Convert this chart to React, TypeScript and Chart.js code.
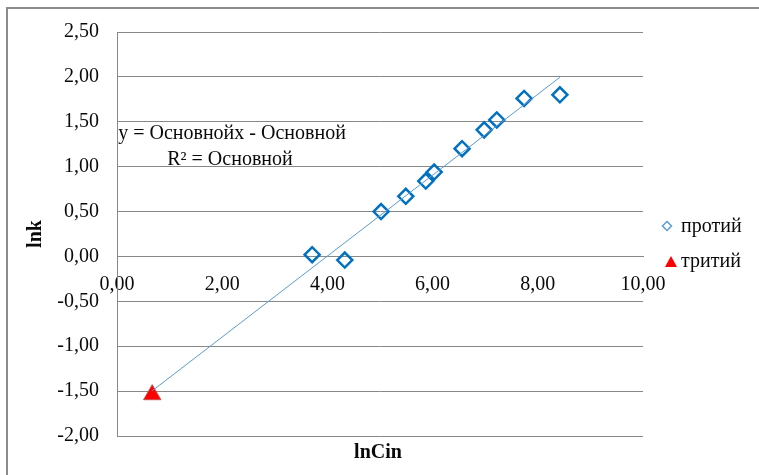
import React, { useEffect, useRef } from "react";
import { Chart, registerables } from "chart.js";

Chart.register(...registerables);

// ---- data ----
const protiumX = [3.71, 4.33, 5.02, 5.49, 5.87, 6.03, 6.56, 6.98, 7.22, 7.74, 8.42];
const protiumY = [0.02, -0.04, 0.5, 0.67, 0.84, 0.94, 1.2, 1.41, 1.52, 1.76, 1.8];
const tritiumX = [0.67];
const tritiumY = [-1.54];
const seriesNames = ["протий", "тритий"];
const xTickValues = [0, 2, 4, 6, 8, 10];
const yTickValues = [-2, -1.5, -1, -0.5, 0, 0.5, 1, 1.5, 2, 2.5];
const equationLine = "y = Основнойх - Основной";
const r2Line = "R² = Основной";
const xTitle = "lnCin";
const yTitle = "lnk";

const FONT = "'Liberation Serif', 'Times New Roman', serif";
const GRID = "#888888";
const fmt = (v: number) => v.toFixed(2).replace(".", ",");

function regression(xs: number[], ys: number[]) {
  const n = xs.length;
  const mx = xs.reduce((a, b) => a + b, 0) / n;
  const my = ys.reduce((a, b) => a + b, 0) / n;
  let sxy = 0;
  let sxx = 0;
  for (let i = 0; i < n; i++) {
    sxy += (xs[i] - mx) * (ys[i] - my);
    sxx += (xs[i] - mx) * (xs[i] - mx);
  }
  const slope = sxy / sxx;
  return { slope, intercept: my - slope * mx };
}

export default function App() {
  const ref = useRef<HTMLCanvasElement | null>(null);

  useEffect(() => {
    if (!ref.current) return;
    const allX = [...tritiumX, ...protiumX];
    const allY = [...tritiumY, ...protiumY];
    const { slope, intercept } = regression(allX, allY);
    const minX = Math.min(...allX);
    const maxX = Math.max(...allX);

    const decor = {
      id: "decor",
      beforeDraw(chart: any) {
        const ctx = chart.ctx;
        ctx.save();
        ctx.fillStyle = "#ffffff";
        ctx.fillRect(0, 0, chart.width, chart.height);
        ctx.strokeStyle = "#8c8c8c";
        ctx.lineWidth = 2;
        ctx.strokeRect(7, 8, 900, 600);
        ctx.restore();
      },
      afterDraw(chart: any) {
        const ctx = chart.ctx;
        ctx.save();
        ctx.fillStyle = "#0a0a0a";
        ctx.textAlign = "center";
        ctx.textBaseline = "middle";
        ctx.font = `20px ${FONT}`;
        ctx.fillText(equationLine, 232, 134);
        ctx.fillText(r2Line, 230, 160);
        ctx.font = `bold 20px ${FONT}`;
        ctx.fillText(xTitle, 378, 453);
        // legend
        ctx.textAlign = "left";
        ctx.font = `20px ${FONT}`;
        ctx.fillText(seriesNames[0], 681, 227);
        ctx.fillText(seriesNames[1], 681, 262);
        ctx.strokeStyle = "#5B9BD5";
        ctx.lineWidth = 1.5;
        ctx.beginPath();
        ctx.moveTo(667, 221.5);
        ctx.lineTo(671.5, 226);
        ctx.lineTo(667, 230.5);
        ctx.lineTo(662.5, 226);
        ctx.closePath();
        ctx.stroke();
        ctx.fillStyle = "#ff0000";
        ctx.beginPath();
        ctx.moveTo(671, 256);
        ctx.lineTo(677, 267);
        ctx.lineTo(665, 267);
        ctx.closePath();
        ctx.fill();
        ctx.restore();
      },
    };

    const chart = new Chart(ref.current, {
      type: "scatter",
      data: {
        datasets: [
          {
            label: "trend",
            type: "line",
            data: [
              { x: minX, y: slope * minX + intercept },
              { x: maxX, y: slope * maxX + intercept },
            ],
            borderColor: "#5B9BD5",
            borderWidth: 1,
            pointRadius: 0,
            fill: false,
            order: 0,
          } as any,
          {
            label: seriesNames[0],
            data: protiumX.map((x, i) => ({ x, y: protiumY[i] })),
            pointStyle: "rectRot",
            pointRadius: 7.5,
            borderWidth: 2.5,
            borderColor: "#0070C0",
            backgroundColor: "rgba(255,255,255,0)",
            order: 1,
          },
          {
            label: seriesNames[1],
            data: tritiumX.map((x, i) => ({ x, y: tritiumY[i] })),
            pointStyle: "triangle",
            pointRadius: 10,
            borderWidth: 1,
            borderColor: "#C0504D",
            backgroundColor: "#ff0000",
            order: 1,
          },
        ],
      },
      options: {
        responsive: false,
        animation: false,
        devicePixelRatio: 1,
        layout: { padding: { left: 0, top: 32, right: 116, bottom: 39 } },
        plugins: {
          legend: { display: false },
          tooltip: { enabled: false },
        },
        scales: {
          x: {
            type: "linear",
            position: { y: 0 } as any,
            min: 0,
            max: 10,
            afterBuildTicks: (s: any) => {
              s.ticks = xTickValues.map((v) => ({ value: v }));
            },
            grid: { display: false, drawTicks: false },
            border: { display: true, color: GRID, width: 1 },
            ticks: {
              padding: 16,
              color: "#0a0a0a",
              font: { family: FONT, size: 20 },
              maxRotation: 0,
              callback: (v: any) => fmt(Number(v)),
            },
          },
          y: {
            type: "linear",
            min: -2,
            max: 2.5,
            afterBuildTicks: (s: any) => {
              s.ticks = yTickValues.map((v) => ({ value: v }));
            },
            afterFit: (s: any) => {
              s.width = 117;
            },
            grid: { color: GRID, lineWidth: 1, drawTicks: false },
            border: { display: true, color: GRID, width: 1 },
            ticks: {
              padding: 18,
              color: "#0a0a0a",
              font: { family: FONT, size: 20 },
              callback: (v: any) => fmt(Number(v)),
            },
            title: {
              display: true,
              text: yTitle,
              color: "#0a0a0a",
              font: { family: FONT, size: 20, weight: "bold" },
              padding: { top: 24, bottom: 0 },
            },
          },
        },
      },
      plugins: [decor],
    });
    return () => chart.destroy();
  }, []);

  return (
    <div style={{ position: "fixed", left: 0, top: 0, width: 759, height: 475, background: "#fff" }}>
      <canvas ref={ref} width={759} height={475} style={{ width: 759, height: 475, display: "block" }} />
    </div>
  );
}
